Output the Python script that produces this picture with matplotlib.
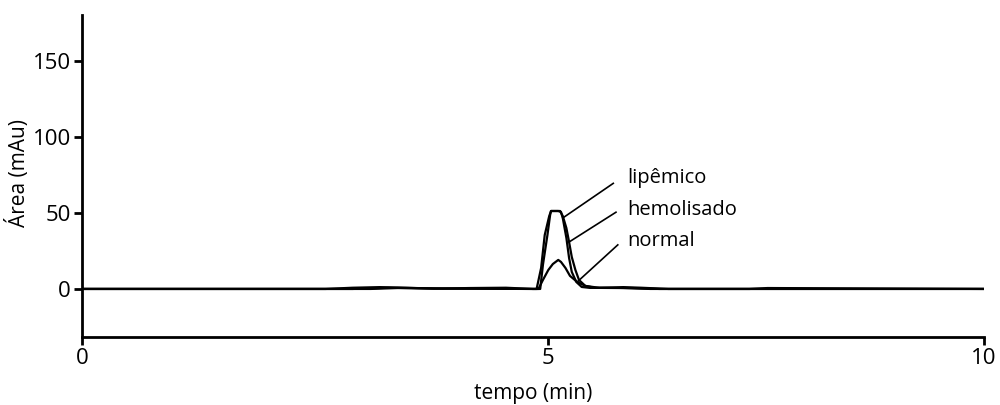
import matplotlib
matplotlib.use("Agg")
from matplotlib import pyplot as plt

plt.rcParams['font.family'] = ['Open Sans', 'DejaVu Sans']

# time axis (min) and absorbance (mAu)
t_lip = [0, 2.7, 3.0, 3.3, 3.6, 3.9, 4.3, 4.7, 5.0,
         5.08, 5.11, 5.16, 5.19, 5.20, 5.28, 5.31, 5.33, 5.37, 5.40, 5.43, 5.48, 5.54, 5.63,
         5.8, 6.0, 6.2, 6.5, 7.4, 7.6, 10]
y_lip = [0, 0, 0.8, 1.2, 0.8, 0.2, 0.6, 0.8, 0,
         0, 15.8, 35.5, 48.7, 51.3, 51.3, 50.7, 46.7, 33.6, 20.4, 11.2, 4.6, 1.3, 0.7,
         0.8, 1.2, 0.8, 0, 0, 0.6, 0]

t_hem = [0, 3.0, 3.4, 4.0, 5.0,
         5.04, 5.09, 5.13, 5.18, 5.20, 5.30, 5.33, 5.37, 5.40, 5.43, 5.47, 5.51, 5.58, 5.69,
         5.8, 6.1, 6.4, 10]
y_hem = [0, 0, 0.8, 0.3, 0,
         0, 13.8, 35.5, 48, 51.3, 51.3, 48, 40.1, 30.9, 21, 12.5, 5.9, 2, 0.7,
         0.8, 0.6, 0, 0]

t_nor = [0, 3.2, 3.5, 4.0, 5.0,
         5.06, 5.11, 5.17, 5.22, 5.28, 5.31, 5.36, 5.41, 5.49, 5.58, 5.74,
         6.0, 6.3, 10]
y_nor = [0, 0, 0.6, 0.2, 0,
         0, 5.9, 12.5, 16.4, 19.1, 17.8, 13.8, 8.6, 4.6, 2, 0.7,
         0.6, 0, 0]

labels = ["lipêmico", "hemolisado", "normal"]
xtick_labels = ["0", "5", "10"]
yticks = [0, 50, 100, 150]

fig = plt.figure(figsize=(10, 4.05), dpi=100)
ax = fig.add_axes([0.082, 0.168, 0.902, 0.795])

for t, y in [(t_lip, y_lip), (t_hem, y_hem), (t_nor, y_nor)]:
    ax.plot(t, y, color='black', lw=1.6, solid_joinstyle='round')

# leader lines from the labels to the peaks
leaders = [((5.89, 69.5), (5.33, 46.7)), ((5.92, 50.5), (5.40, 30.9)), ((5.94, 29), (5.49, 4.6))]
for (x0, y0), (x1, y1) in leaders:
    ax.plot([x0, x1], [y0, y1], color='black', lw=1.2)

label_y = [73, 52, 31.5]
for lab, ly in zip(labels, label_y):
    ax.text(6.05, ly, lab, fontsize=14.5, va='center', ha='left')

ax.set_xlim(0, 10)
ax.set_ylim(-31.6, 180.3)
ax.set_xticks([0, 5.17, 10])
ax.set_xticklabels(xtick_labels)
ax.set_yticks(yticks)
ax.tick_params(labelsize=16, width=2, length=6, direction='out', pad=2)
ax.spines['top'].set_visible(False)
ax.spines['right'].set_visible(False)
ax.spines['left'].set_linewidth(2)
ax.spines['bottom'].set_linewidth(2)
ax.set_xlabel("tempo (min)", fontsize=15, labelpad=10)
ax.set_ylabel("Área (mAu)", fontsize=15)
ax.yaxis.set_label_coords(-0.058, 0.51)

fig.savefig("out.png", dpi=100)
